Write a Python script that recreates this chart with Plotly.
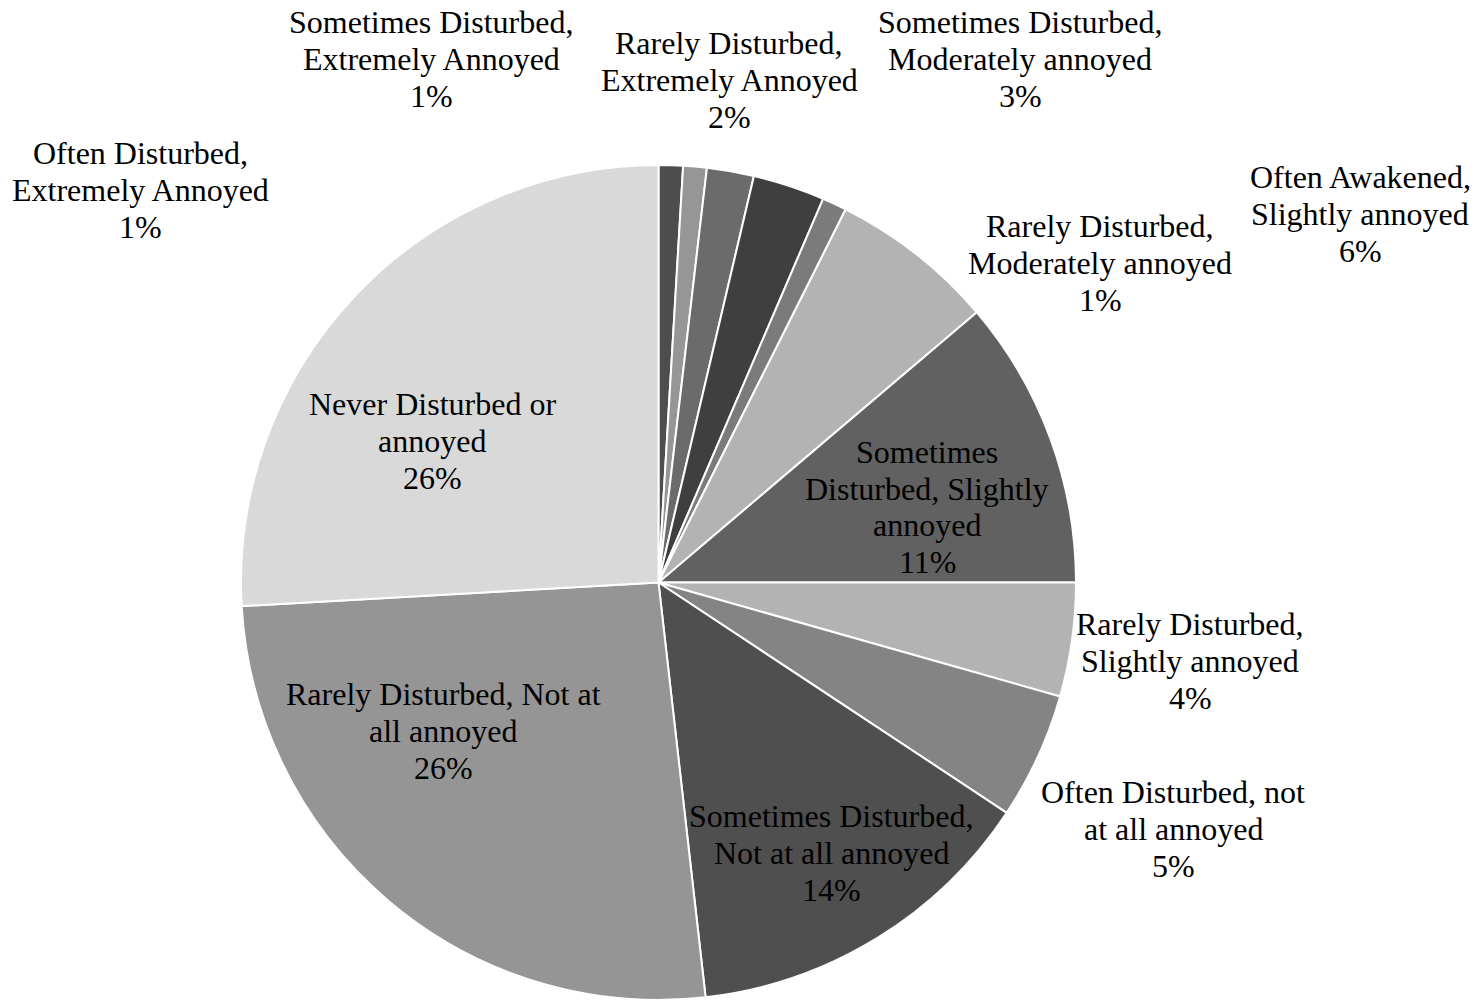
import plotly.graph_objects as go

# ---- data ----
categories = [
    "Often Disturbed, Extremely Annoyed",
    "Sometimes Disturbed, Extremely Annoyed",
    "Rarely Disturbed, Extremely Annoyed",
    "Sometimes Disturbed, Moderately annoyed",
    "Rarely Disturbed, Moderately annoyed",
    "Often Awakened, Slightly annoyed",
    "Sometimes Disturbed, Slightly annoyed",
    "Rarely Disturbed, Slightly annoyed",
    "Often Disturbed, not at all annoyed",
    "Sometimes Disturbed, Not at all annoyed",
    "Rarely Disturbed, Not at all annoyed",
    "Never Disturbed or annoyed",
]
values = [0.94, 0.91, 1.82, 2.78, 0.95, 6.4, 11.2, 4.4, 4.9, 13.9, 25.9, 25.9]

# wrapped label lines (as shown in the chart)
label_lines = [
    ["Often Disturbed,", "Extremely Annoyed"],
    ["Sometimes Disturbed,", "Extremely Annoyed"],
    ["Rarely Disturbed,", "Extremely Annoyed"],
    ["Sometimes Disturbed,", "Moderately annoyed"],
    ["Rarely Disturbed,", "Moderately annoyed"],
    ["Often Awakened,", "Slightly annoyed"],
    ["Sometimes", "Disturbed, Slightly", "annoyed"],
    ["Rarely Disturbed,", "Slightly annoyed"],
    ["Often Disturbed, not", "at all annoyed"],
    ["Sometimes Disturbed,", "Not at all annoyed"],
    ["Rarely Disturbed, Not at", "all annoyed"],
    ["Never Disturbed or", "annoyed"],
]

# ---- styling / layout ----
W, H = 1483, 1008
colors = ["#4d4d4d", "#969696", "#6b6b6b", "#3f3f3f", "#7b7b7b", "#b3b3b3",
          "#616161", "#b3b3b3", "#848484", "#4f4f4f", "#959595", "#d9d9d9"]
# label block centres in pixels (x, y from top)
label_pos = [(140, 190), (431, 59), (729, 80), (1020, 59), (1100, 263), (1360, 214),
             (927, 507), (1190, 661), (1173, 829), (831, 853), (443, 731), (432, 441)]
FONT = "Liberation Serif, Times New Roman, serif"
FS = 32
LINE = 36.7

cx, cy, r = 658.5, 582.5, 417.5
dom_x = [(cx - r) / W, (cx + r) / W]
dom_y = [1 - (cy + r) / H, 1 - (cy - r) / H]

fig = go.Figure()
fig.add_trace(go.Pie(
    labels=categories,
    values=values,
    sort=False,
    direction="clockwise",
    rotation=0,
    textinfo="none",
    hoverinfo="label+percent",
    marker=dict(colors=colors, line=dict(color="white", width=2)),
    domain=dict(x=dom_x, y=dom_y),
    showlegend=False,
))

total = sum(values)
annotations = []
for lines, v, (px, py) in zip(label_lines, values, label_pos):
    all_lines = lines + [f"{v / total * 100:.0f}%"]
    n = len(all_lines)
    for i, t in enumerate(all_lines):
        ly = py + (i - (n - 1) / 2) * LINE
        annotations.append(dict(
            x=px / W, y=1 - ly / H, xref="paper", yref="paper",
            text=t, showarrow=False, xanchor="center", yanchor="middle",
            font=dict(family=FONT, size=FS, color="black"),
        ))

fig.update_layout(
    width=W, height=H,
    margin=dict(l=0, r=0, t=0, b=0),
    paper_bgcolor="white", plot_bgcolor="white",
    annotations=annotations,
)

fig.write_html(
    "out.html",
    config={"displayModeBar": False},
    post_script="document.body.style.margin='0';document.body.style.overflow='hidden';",
)
